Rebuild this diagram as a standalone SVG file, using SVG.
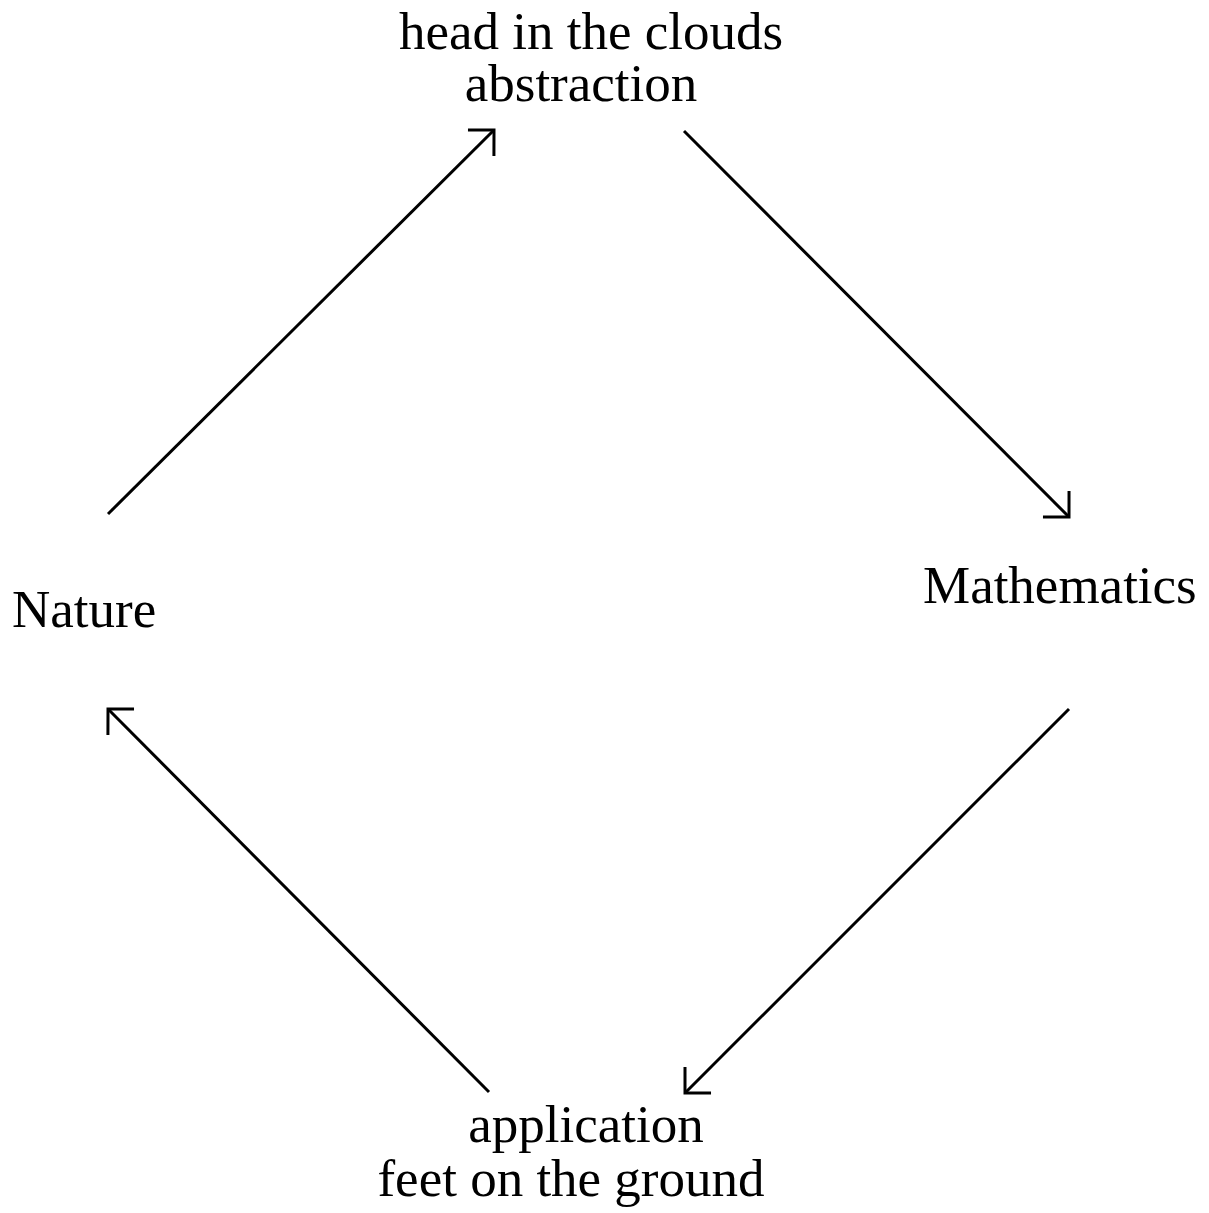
<svg xmlns="http://www.w3.org/2000/svg" width="1209" height="1213" viewBox="0 0 1209 1213">
<style>
text{font-family:"Liberation Serif","Times New Roman",serif;font-size:53px;fill:#000}
.c{stroke:#000;stroke-width:3;fill:none}
</style>
<defs>
<marker id="ah" markerUnits="userSpaceOnUse" orient="auto" markerWidth="40" markerHeight="50" refX="0" refY="0" viewBox="-30 -25 40 50" overflow="visible">
<path d="M-18.4,-18.4 L0,0 L-18.4,18.4" fill="none" stroke="#000" stroke-width="3" stroke-linejoin="miter"/>
</marker>
</defs>
<rect width="1209" height="1213" fill="#fff"/>
<g id="connectors">
<path class="c" d="M108,514 L494,130" marker-end="url(#ah)"/>
<path class="c" d="M684,131 L1069,517" marker-end="url(#ah)"/>
<path class="c" d="M1069,709 L685,1093" marker-end="url(#ah)"/>
<path class="c" d="M489,1092 L108,709" marker-end="url(#ah)"/>
</g>
<g id="top"><text x="591" y="49" text-anchor="middle">head in the clouds</text><text x="581" y="101" text-anchor="middle">abstraction</text></g>
<g id="nature"><text x="12" y="627">Nature</text></g>
<g id="math"><text x="923" y="603">Mathematics</text></g>
<g id="bottom"><text x="586" y="1142" text-anchor="middle">application</text><text x="571" y="1196" text-anchor="middle">feet on the ground</text></g>
</svg>
